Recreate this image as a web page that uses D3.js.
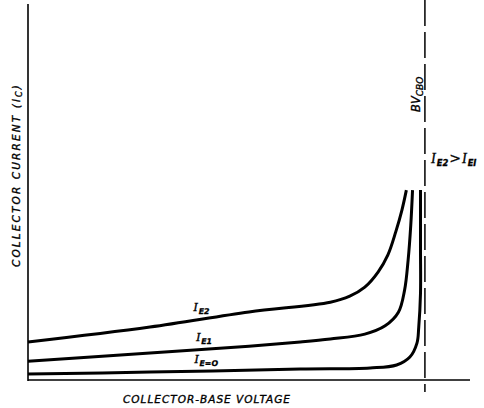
<!DOCTYPE html>
<html><head><meta charset="utf-8">
<script src="https://cdn.jsdelivr.net/npm/d3@7"></script>
<style>body{margin:0;background:#fff}svg{display:block}</style>
</head><body>
<script>
// Collector-base voltage (arbitrary units) vs collector current (arbitrary units)
const curveIE0 = [[0,1.6],[13.8,2.1],[30.8,2.9],[38.7,3.2],[41.7,4.0],[43.2,6.1],[44.0,9.8],[44.2,14.0],[44.4,23.0],[44.4,35],[44.4,50.5]];
const curveIE1 = [[0,5.0],[13.8,7.2],[25,9.0],[30.8,10.1],[34.2,10.9],[38.1,12.2],[40.4,14.4],[41.9,18.0],[42.6,23.9],[43.0,31.9],[43.3,41.2],[43.5,50.5]];
const curveIE2 = [[0,10.1],[13.8,14.1],[25,18.1],[34.2,20.7],[36.4,22.3],[38.1,24.7],[39.6,28.7],[40.7,33.2],[41.6,39.4],[42.3,45.2],[42.8,50.5]];
const bvCBO = 44.9;
const xDomain = [0, 50];
const yDomain = [0, 100];
const xTitle = "COLLECTOR-BASE VOLTAGE";
const yTitle = "COLLECTOR CURRENT (I";
const curveLabels = [
  {main:"I", sub:"E2", v:18.7, i:18.3},
  {main:"I", sub:"E1", v:19.0, i:10.4},
  {main:"I", sub:"E=O", v:18.8, i:4.4}
];

const W = 484, H = 408;
const svg = d3.select("body").append("svg").attr("width", W).attr("height", H);
const x = d3.scaleLinear().domain(xDomain).range([28, 470]);
const y = d3.scaleLinear().domain(yDomain).range([380, 4]);

// axes
svg.append("line").attr("x1", x(0)).attr("x2", x(0)).attr("y1", 4).attr("y2", 381)
  .attr("stroke", "#000").attr("stroke-width", 1.6);
svg.append("line").attr("x1", x(0)).attr("x2", x(xDomain[1])).attr("y1", y(0)).attr("y2", y(0))
  .attr("stroke", "#000").attr("stroke-width", 1.4);

// breakdown dashed line
svg.append("line").attr("x1", x(bvCBO)).attr("x2", x(bvCBO)).attr("y1", 0).attr("y2", 392)
  .attr("stroke", "#000").attr("stroke-width", 1.5).attr("stroke-dasharray", "26,6");

const line = d3.line().x(d => x(d[0])).y(d => y(d[1])).curve(d3.curveCatmullRom.alpha(0.5));
[curveIE0, curveIE1, curveIE2].forEach(c => {
  svg.append("path").attr("d", line(c)).attr("fill", "none").attr("stroke", "#000")
    .attr("stroke-width", 3).attr("stroke-linecap", "butt");
});

function subLabel(t, main, sub, size) {
  t.append("tspan").attr("font-family", "Liberation Serif").attr("font-style", "italic").attr("font-size", size).text(main);
  t.append("tspan").attr("dy", 3).attr("dx", 1).attr("font-family", "DejaVu Sans").attr("font-style", "oblique")
    .attr("font-weight", "bold").attr("font-size", size * 0.6).text(sub);
}

// curve labels
curveLabels.forEach(l => {
  const t = svg.append("text").attr("x", x(l.v)).attr("y", y(l.i)).attr("stroke", "#000").attr("stroke-width", 0.3);
  subLabel(t, l.main, l.sub, 13);
});

// I_E2 > I_E1
const g = svg.append("text").attr("x", 431).attr("y", 163).attr("stroke", "#000").attr("stroke-width", 0.3);
subLabel(g, "I", "E2", 14);
g.append("tspan").attr("dy", -3).attr("dx", 1).attr("font-family", "DejaVu Sans").attr("font-size", 14).text(">");
g.append("tspan").attr("dx", 1).attr("font-family", "Liberation Serif").attr("font-style", "italic").attr("font-size", 14).text("I");
g.append("tspan").attr("dy", 3).attr("dx", 1).attr("font-family", "DejaVu Sans").attr("font-style", "oblique").attr("font-weight", "bold").attr("font-size", 8.4).text("EI");

// BV_CBO rotated
const bv = svg.append("text").attr("transform", "translate(420,112) rotate(-90)")
  .attr("font-family", "DejaVu Sans").attr("font-style", "oblique").attr("font-size", 11.5)
  .attr("stroke", "#000").attr("stroke-width", 0.35);
bv.append("tspan").text("BV");
bv.append("tspan").attr("dy", 3).attr("font-size", 9).text("CBO");

// axis titles
svg.append("text").attr("x", 123).attr("y", 403)
  .attr("font-family", "DejaVu Sans").attr("font-style", "oblique").attr("font-size", 10.5)
  .attr("stroke", "#000").attr("stroke-width", 0.35)
  .attr("textLength", 167).attr("lengthAdjust", "spacing").text(xTitle);
const yt = svg.append("text").attr("transform", "translate(20,267) rotate(-90)")
  .attr("font-family", "DejaVu Sans").attr("font-style", "oblique").attr("font-size", 10.5)
  .attr("stroke", "#000").attr("stroke-width", 0.35);
yt.append("tspan").attr("textLength", 168).attr("lengthAdjust", "spacing").text(yTitle);
yt.append("tspan").attr("dy", 2).attr("font-size", 8).text("C");
yt.append("tspan").attr("dy", -2).attr("dx", 2).text(")");
</script>
</body></html>
